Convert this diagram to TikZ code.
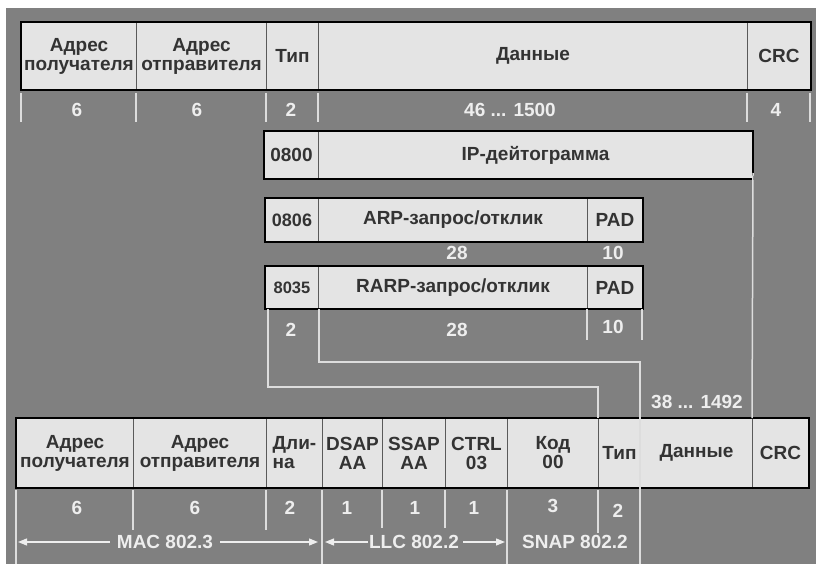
\documentclass[tikz,border=0pt]{standalone}
\usepackage{fontspec}
\setmainfont{Liberation Sans}
\usetikzlibrary{arrows.meta}
\definecolor{cbg}{HTML}{808080}
\definecolor{cfill}{HTML}{E4E4E4}
\definecolor{cdiv}{HTML}{5A5A5A}
\definecolor{ctext}{HTML}{333333}
\definecolor{clight}{HTML}{EEEEEE}
\tikzset{
  every picture/.style={font=\fontsize{19}{19}\selectfont\bfseries},
  field/.style={draw=cdiv, fill=cfill, line width=1pt, anchor=north west, inner sep=0pt,
    minimum height=#1, text=ctext, align=center},
  frame/.style={draw=black, line width=2.6pt},
  num/.style={text=clight, inner sep=1pt},
  tick/.style={draw=clight!85!cbg, line width=1.3pt},
  link/.style={draw=clight!85!cbg, line width=1.5pt},
  arrow/.style={-{Triangle[length=9pt, width=7pt]}, draw=clight, line width=1.3pt, fill=clight},
}
\begin{document}
\begin{tikzpicture}[x=1pt, y=-1pt]
  \useasboundingbox (0,0) rectangle (816,564);
  \fill[cbg] (6,8) rectangle (816,564);
  % Ethernet II frame
  \foreach \a/\b/\txt/\n in {21/136/{Адрес\\получателя}/t1, 136/266/{Адрес\\отправителя}/t2,
      266/318/Тип/t3, 318/747/Данные/t4, 747/810/CRC/t5}
    \node[field=67, minimum width={(\b-\a)*1pt}] (\n) at (\a,22) {\txt};
  \draw[frame] (t1.north west) rectangle (t5.south east);
  \foreach \x in {21,136,266,318,747,810} \draw[tick] (\x,93) -- (\x,122);
  \foreach \x/\v in {77/6, 197/6, 291/2, 510/{46 ... 1500}, 776/4}
    \node[num] at (\x,110) {\v};
  % IP, ARP and RARP payloads
  \node[field=47, minimum width=54pt] (ip0) at (264,131) {0800};
  \node[field=47, minimum width=434pt] (ip1) at (318,131) {IP-дейтограмма};
  \draw[frame] (ip0.north west) rectangle (ip1.south east);
  \node[field=43, minimum width=53pt, font=\fontsize{18}{18}\selectfont\bfseries] (a0) at (265,198) {0806};
  \node[field=43, minimum width=269pt] (a1) at (318,198) {\raisebox{4pt}{ARP-запрос/отклик}};
  \node[field=43, minimum width=55pt] (a2) at (587,198) {\raisebox{-3pt}{PAD}};
  \draw[frame] (a0.north west) rectangle (a2.south east);
  \node[num] at (457,253) {28};
  \node[num] at (613,253) {10};
  \node[field=42, minimum width=53pt, font=\fontsize{16.5}{18}\selectfont\bfseries] (r0) at (265,266) {8035};
  \node[field=42, minimum width=269pt] (r1) at (318,266) {RARP-запрос/отклик};
  \node[field=42, minimum width=55pt] (r2) at (587,266) {PAD};
  \draw[frame] (r0.north west) rectangle (r2.south east);
  \foreach \x in {587,642} \draw[tick] (\x,309) -- (\x,340);
  \node[num] at (291,330) {2};
  \node[num] at (457,330) {28};
  \node[num] at (613,327) {10};
  % IEEE 802.3 / 802.2 SNAP frame
  \foreach \a/\b/\txt/\n in {16/133/{Адрес\\получателя}/b1, 133/266/{Адрес\\отправителя}/b2,
      322/382/{DSAP\\AA}/b4, 382/445/{SSAP\\AA}/b5, 445/507/{CTRL\\03}/b6,
      507/598/{Код\\00}/b7, 598/640/Тип/b8, 640/752/Данные/b9, 752/808/CRC/b10}
    \node[field=69, minimum width={(\b-\a)*1pt}] (\n) at (\a,418) {\txt};
  \node[field=69, minimum width=56pt, align=left] (b3) at (266,418) {Дли-\\на};
  \draw[frame] (b1.north west) rectangle (b10.south east);
  \foreach \x/\e in {16/564, 133/530, 266/530, 322/564, 382/528, 445/528, 507/564, 598/533}
    \draw[tick] (\x,490) -- (\x,\e);
  \foreach \x/\y/\v in {77/508/6, 195/508/6, 290/508/2, 347/508/1, 415/508/1, 474/508/1,
      553/506/3, 618/511/2}
    \node[num] at (\x,\y) {\v};
  \node[num] (len) at (697,402) {38 ... 1492};
  % mapping of the payload fields
  \draw[link] ([xshift=3pt]r0.south west) -- ++(0,78) -| (b8.north west);
  \draw[link] (r0.south east) -- ++(0,53) -| (b9.north west) -- (b9.south west) -- ++(0,77);
  \draw[link] ([yshift=6pt]ip1.south east) -- (b10.north west);
  % layer spans
  \node[num] (mac) at (165,542) {MAC 802.3};
  \node[num] (llc) at (414,542) {LLC 802.2};
  \node[num] (snap) at (575,542) {SNAP 802.2};
  \coordinate (macL) at (18,542);
  \coordinate (macR) at (318,542);
  \coordinate (llcL) at (325,542);
  \coordinate (llcR) at (505,542);
  \draw[arrow] ([xshift=-6pt]mac.west) -- (macL);
  \draw[arrow] ([xshift=6pt]mac.east) -- (macR);
  \draw[arrow] (llc.west) -- (llcL);
  \draw[arrow] ([xshift=3pt]llc.east) -- (llcR);
\end{tikzpicture}
\end{document}
